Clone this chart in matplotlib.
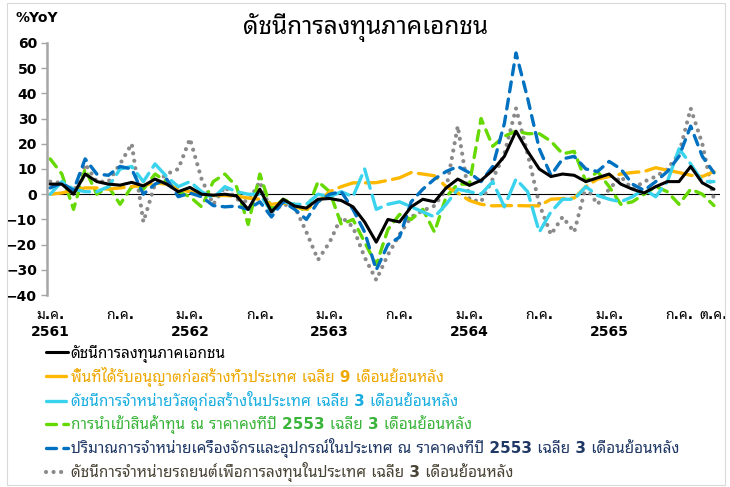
import matplotlib
matplotlib.use("Agg")
import matplotlib.pyplot as plt
from matplotlib import font_manager
from matplotlib.patches import Rectangle

# ---------------------------------------------------------------------------
# Data (%YoY, monthly, ม.ค. 2561 .. ต.ค. 2565)
# ---------------------------------------------------------------------------
pii = [4, 4, 0, 8, 5, 4, 3.6, 4.7, 3.3, 6, 4, 1,
       2.7, 0, -0.4, 0, -0.7, -6, 2, -7, -2, -4.7, -5.5, -2,
       -1.7, -2.5, -5, -11, -19, -10, -11, -5, -2, -3, 2.5, 6,
       3.5, 5.5, 9.5, 15, 25, 17, 10, 7, 8, 7.5, 5, 6.5,
       8, 4, 2, 0.5, 3, 5, 5, 11, 4.5, 2]
permits = [0, 0.5, 1.5, 2.5, 2.5, 2, 2.5, 3, 3.5, 4.5, 4, 2,
           1, 0, -0.5, -0.5, -0.8, -1.5, -2, -4, -3.5, -5, -6, -3,
           1, 3, 4.5, 4.5, 4.6, 5.5, 6.5, 8.6, 8, 7.3, 3, 0.5,
           -2.5, -4, -4.6, -4.5, -4.5, -4.6, -4.6, -2, -1.7, -1.5, 3, 6,
           7, 8, 8.6, 9, 10.5, 9.5, 8.6, 7.5, 7, 9]
materials = [0, 5, 2, 1, 1, 3, 10, 11, 5, 12, 7, 3,
             5, 1, -1.5, 3, 1, 0, 0, -7, -3, -4, -4, 0,
             -1, 1, -1, 10, -6, -4, -3, -5, -7, -9, -4, 2,
             1, 0, 5, -5, 6, 1, -15, -7, -2, -2, 3, -0.5,
             -2, -3, -1, 2, -1, 5, 18, 12, 5, 5]
imports = [14, 8, -6, 10, 0, 3, -4, 3, 2, 8, 5, 1,
           -1, -5, 5, 8, 3, -12, 8, -6, -2, -4, -7, 5,
           1, -12, -10, -19, -28, -14, -8, -10, -6, -15, -1, 4,
           4, 30, 19, 23, 25, 24, 24, 21, 16, 17, 5, 9,
           3, -4, -3, 0, 3, 1, -4, 2, 0, -4.5]
machinery = [2.5, 4.5, 1.5, 14, 8, 7.5, 11, 10, 0, 4, 6, -1,
             0.5, -1, -4.5, -5, -4.7, -6, -3, -9, -3, -6, -10, -3,
             0, 1, -6, -15, -30, -20, -17, -3, 2, 6, 9, 11,
             8.5, 5, 11, 28, 56, 38, 18, 7.5, 14, 15, 10, 9,
             13, 10, 4, 1.5, 5, 9, 15, 27, 15, 8.5]
cars = [5, 4.5, 1, 12, 5, 5, 12, 20, -11, 4, 8, 10,
        22, 6, -4, 3, -2, -3, 5, -7, -4, -5, -15, -26,
        -19, -9, -13, -25, -34, -24, -16, -9, -6.5, -4.6, 2, 27,
        -2, -3, 6, 16, 34, 16, -4, -16, -9, -15, 3, -4,
        2, 7, 2, 5, 7, 10, 16, 34, 20, -2]

months = list(range(len(pii)))
tick_pos = [0, 6, 12, 18, 24, 30, 36, 42, 48, 54, 57]
tick_lab = ['ม.ค.\n2561', 'ก.ค.', 'ม.ค.\n2562', 'ก.ค.', 'ม.ค.\n2563', 'ก.ค.',
            'ม.ค.\n2564', 'ก.ค.', 'ม.ค.\n2565', 'ก.ค.', 'ต.ค.']

labels = ['ดัชนีการลงทุนภาคเอกชน',
          'พื้นที่ได้รับอนุญาตก่อสร้างทั่วประเทศ เฉลี่ย 9 เดือนย้อนหลัง',
          'ดัชนีการจำหน่ายวัสดุก่อสร้างในประเทศ เฉลี่ย 3 เดือนย้อนหลัง',
          'การนำเข้าสินค้าทุน ณ ราคาคงที่ปี 2553 เฉลี่ย 3 เดือนย้อนหลัง',
          'ปริมาณการจำหน่ายเครื่องจักรและอุปกรณ์ในประเทศ ณ ราคาคงที่ปี 2553 เฉลี่ย 3 เดือนย้อนหลัง',
          'ดัชนีการจำหน่ายรถยนต์เพื่อการลงทุนในประเทศ เฉลี่ย 3 เดือนย้อนหลัง']
text_colors = ['black', '#EEA800', '#1AAEE0', '#3BB43B', '#203864', '#4A4436']

# ---------------------------------------------------------------------------
# Fonts: Latin from DejaVu, Thai glyphs from the first Thai family available
# ---------------------------------------------------------------------------
have = {f.name for f in font_manager.fontManager.ttflist}
thai = next((n for n in ['Noto Sans Thai Looped', 'IBM Plex Sans Thai Looped',
                         'Noto Sans Thai', 'Sarabun', 'Bai Jamjuree']
             if n in have), 'DejaVu Sans')
plt.rcParams['font.family'] = ['DejaVu Sans', thai]

# ---------------------------------------------------------------------------
# Figure
# ---------------------------------------------------------------------------
fig = plt.figure(figsize=(7.3, 4.87), dpi=100)
fig.patches.append(Rectangle((0.009, 0.004), 0.984, 0.99, transform=fig.transFigure,
                             fill=False, edgecolor='#D9D9D9', lw=0.8))
ax = fig.add_axes([0.064, 0.394, 0.922, 0.518])

lw = 2.4
ax.plot(months, pii, color='black', lw=2.2, solid_capstyle='round',
        label=labels[0], zorder=6)
ax.plot(months, permits, color='#FFB800', lw=lw, dashes=(6, 2.2),
        dash_capstyle='round', label=labels[1], zorder=3)
ax.plot(months, materials, color='#3AD3EE', lw=lw, dashes=(6, 2.2),
        dash_capstyle='round', label=labels[2], zorder=4)
ax.plot(months, imports, color='#66D900', lw=lw, dashes=(3, 2.2),
        dash_capstyle='round', label=labels[3], zorder=2)
ax.plot(months, machinery, color='#0070C0', lw=lw, dashes=(3, 2.2),
        dash_capstyle='round', label=labels[4], zorder=5)
ax.plot(months, cars, color='#8A8A8A', lw=3.0, dashes=(0.01, 1.8),
        dash_capstyle='round', label=labels[5], zorder=1)

ax.axhline(0, color='black', lw=0.8, zorder=0)

ax.set_xlim(-0.3, 57.5)
ax.set_ylim(-40, 60)
ax.set_yticks(range(-40, 61, 10))
ax.set_xticks(tick_pos)
ax.set_xticklabels(tick_lab, fontsize=10, fontweight='bold', linespacing=1.3)
ax.tick_params(axis='x', length=0, pad=9)
ax.tick_params(axis='y', length=4, width=1, color='#A6A6A6', pad=3, labelsize=10)
for t in ax.get_yticklabels():
    t.set_fontweight('bold')
for s in ['top', 'right', 'bottom']:
    ax.spines[s].set_visible(False)
ax.spines['left'].set_color('#A6A6A6')
ax.spines['left'].set_linewidth(1.8)

fig.text(0.021, 0.963, '%YoY', fontsize=10, fontweight='bold', va='center')
fig.text(0.5, 0.943, 'ดัชนีการลงทุนภาคเอกชน', fontsize=17.5, fontweight='bold',
         ha='center', va='center')

leg = fig.legend(loc='upper left', bbox_to_anchor=(0.055, 0.305), frameon=False,
                 fontsize=11, handlelength=1.45, handletextpad=0.15,
                 labelspacing=0.27, borderaxespad=0)
for t, c in zip(leg.get_texts(), text_colors):
    t.set_color(c)
    t.set_fontweight('bold')

fig.savefig('out.png', dpi=100)
